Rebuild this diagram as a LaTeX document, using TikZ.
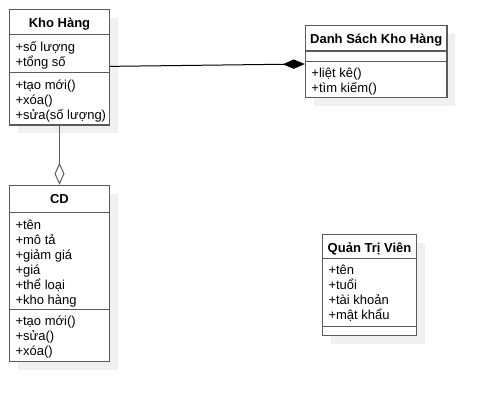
\documentclass[tikz,border=0pt]{standalone}
\usepackage{fontspec}
\setmainfont{Liberation Sans}
\usetikzlibrary{arrows.meta}

\definecolor{boxline}{RGB}{90,90,90}
\definecolor{boxshadow}{RGB}{240,240,240}
\newcommand\memberfont{\fontsize{9.75pt}{11.25pt}\selectfont\lineskiplimit=-50pt\relax}

\tikzset{
	classbox/.style={draw=boxline, line width=1.1pt, fill=white, inner sep=0pt},
	classline/.style={draw=boxline, line width=1.1pt},
	classtitle/.style={anchor=base, inner sep=0pt, font=\fontsize{9.75pt}{11.25pt}\selectfont\bfseries},
	members/.style={anchor=base west, inner sep=0pt, align=left, font=\memberfont}}
\tikzset{every picture/.style={line width=0.75pt}}

\begin{document}
\begin{tikzpicture}[x=0.75pt,y=0.75pt,yscale=-1,xscale=1]
	\useasboundingbox (0,0) rectangle (487,401);

	%Shape: Shadows
	\fill [boxshadow] (17.5,17.5) rectangle (117.5,133);
	\fill [boxshadow] (313.5,33.5) rectangle (455,105.5);
	\fill [boxshadow] (17.5,193.5) rectangle (117.5,369.5);
	\fill [boxshadow] (330.5,242.5) rectangle (424.5,343.5);

	%Shape: Rectangle [Kho Hang]
	\node (kho) [classbox, minimum width=75pt, minimum height=86.625pt] at (59.5,67.25) {};
	\draw [classline] (kho.west |- 0,34.5) -- (kho.east |- 0,34.5);
	\draw [classline] (kho.west |- 0,72.5) -- (kho.east |- 0,72.5);
	%Shape: Rectangle [Danh Sach Kho Hang]
	\node (ds) [classbox, minimum width=106.125pt, minimum height=54pt] at (376.25,61.5) {};
	\draw [classline] (ds.west |- 0,51) -- (ds.east |- 0,51);
	\draw [classline] (ds.west |- 0,61.3) -- (ds.east |- 0,61.3);
	%Shape: Rectangle [CD]
	\node (cd) [classbox, minimum width=75pt, minimum height=132pt] at (59.5,273.5) {};
	\draw [classline] (cd.west |- 0,212.7) -- (cd.east |- 0,212.7);
	\draw [classline] (cd.west |- 0,309.3) -- (cd.east |- 0,309.3);
	%Shape: Rectangle [Quan Tri Vien]
	\node (qtv) [classbox, minimum width=70.5pt, minimum height=75.75pt] at (369.5,285) {};
	\draw [classline] (qtv.west |- 0,258.3) -- (qtv.east |- 0,258.3);
	\draw [classline] (qtv.west |- 0,326.7) -- (qtv.east |- 0,326.7);

	%Straight Lines [aggregation]
	\draw [boxline, -{Diamond[open, length=16.5pt, width=7.5pt]}] (kho.south) -- (cd.north);
	%Straight Lines [composition]
	\draw [-{Diamond[length=16.5pt, width=7pt]}] (kho.1) -- (ds.182);

	% Text Node
	\node (khoT) [classtitle] at (59.5,27.5) {Kho Hàng};
	% Text Node
	\node (khoA) [members] at (15,66) {+số lượng\\+tổng số};
	% Text Node
	\node (khoM) [members] at (15,119) {+tạo mới()\\+xóa()\\+sửa(số lượng)};
	% Text Node
	\node (dsT) [classtitle] at (376.25,43) {Danh Sách Kho Hàng};
	% Text Node
	\node (dsM) [members] at (311,92.8) {+liệt kê()\\+tìm kiếm()};
	% Text Node
	\node (cdT) [classtitle] at (59.5,203.3) {CD};
	% Text Node
	\node (cdA) [members] at (15,304.2) {+tên\\+mô tả\\+giảm giá\\+giá\\+thể loại\\+kho hàng};
	% Text Node
	\node (cdM) [members] at (15,355.8) {+tạo mới()\\+sửa()\\+xóa()};
	% Text Node
	\node (qtvT) [classtitle] at (369.5,252.3) {Quản Trị Viên};
	% Text Node
	\node (qtvA) [members] at (328,319.8) {+tên\\+tuổi\\+tài khoản\\+mật khẩu};

\end{tikzpicture}
\end{document}
